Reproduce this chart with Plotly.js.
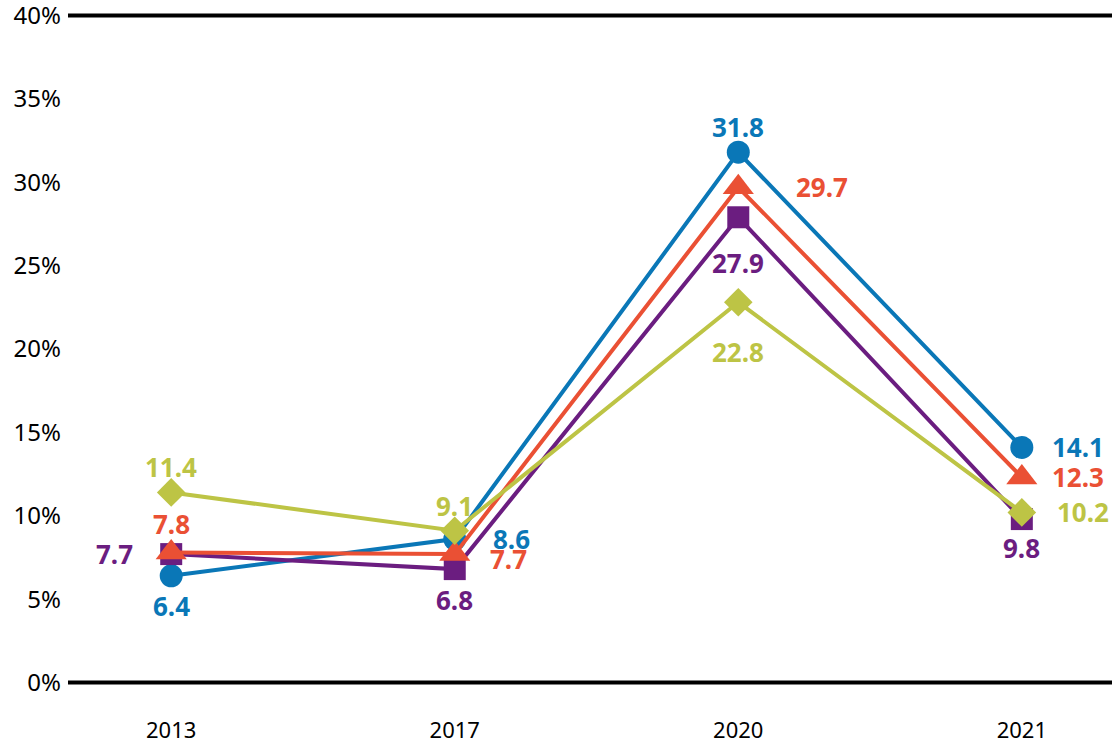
<!DOCTYPE html>
<html>
<head>
<meta charset="utf-8">
<script src="https://cdn.plot.ly/plotly-3.0.1.min.js"></script>
<style>html,body{margin:0;padding:0;background:#fff;}#chart{width:1112px;height:745px;}</style>
</head>
<body>
<div id="chart"></div>
<script>
const years = ["2013", "2017", "2020", "2021"];
const blueValues = [6.4, 8.6, 31.8, 14.1];
const redValues = [7.8, 7.7, 29.7, 12.3];
const purpleValues = [7.7, 6.8, 27.9, 9.8];
const greenValues = [11.4, 9.1, 22.8, 10.2];
const yTickValues = [0, 5, 10, 15, 20, 25, 30, 35, 40];
const yTickLabels = ["0%", "5%", "10%", "15%", "20%", "25%", "30%", "35%", "40%"];

const series = [
  {values: blueValues, color: "#0a77b7", symbol: "circle", size: 23,
   shifts: [[0,-30],[57,0],[0,25],[56,0]]},
  {values: purpleValues, color: "#6b1d80", symbol: "square", size: 22,
   shifts: [[-57,0],[0,-31],[0,-46],[0,-29]]},
  {values: redValues, color: "#ea5034", symbol: "triangle-up", size: 27,
   shifts: [[0,28],[54,-5],[84,0],[56,0]]},
  {values: greenValues, color: "#bdc445", symbol: "diamond", size: 22,
   shifts: [[0,25],[0,25],[0,-50],[61,0]]}
];

const traces = series.map(s => ({
  type: "scatter", mode: "lines+markers", x: years, y: s.values,
  line: {color: s.color, width: 4},
  marker: {color: s.color, symbol: s.symbol, size: s.size, line: {width: 0}},
  hoverinfo: "skip", showlegend: false, cliponaxis: false
}));

const annotations = [];
series.forEach(s => {
  s.values.forEach((v, i) => {
    annotations.push({
      x: i, y: v, xref: "x", yref: "y", text: "<b>" + v.toFixed(1) + "</b>", showarrow: false,
      xshift: s.shifts[i][0], yshift: s.shifts[i][1],
      font: {family: "Noto Sans", size: 26, color: s.color}
    });
  });
});

const layout = {
  width: 1112, height: 745,
  margin: {l: 68, r: 0, t: 13, b: 60},
  paper_bgcolor: "#fff", plot_bgcolor: "#fff",
  xaxis: {type: "category", range: [-0.364, 3.318], showgrid: false, zeroline: false, showline: false,
    ticks: "", ticklabelstandoff: 30, ticklabeloverflow: "allow", tickfont: {family: "Noto Sans", size: 22, color: "#000"}},
  yaxis: {range: [-0.15, 40.15], tickvals: yTickValues, ticktext: yTickLabels, showgrid: false, zeroline: false, showline: false,
    ticks: "", ticklabelstandoff: 6, ticklabeloverflow: "allow", tickfont: {family: "Noto Sans", size: 24, color: "#000"}},
  shapes: [
    {type: "line", xref: "paper", yref: "y", x0: 0, x1: 1, y0: 0, y1: 0, line: {color: "#000", width: 4}, layer: "below"},
    {type: "line", xref: "paper", yref: "y", x0: 0, x1: 1, y0: 40, y1: 40, line: {color: "#000", width: 4}, layer: "below"}
  ],
  annotations: annotations
};

Plotly.newPlot("chart", traces, layout, {displayModeBar: false});
</script>
</body>
</html>
